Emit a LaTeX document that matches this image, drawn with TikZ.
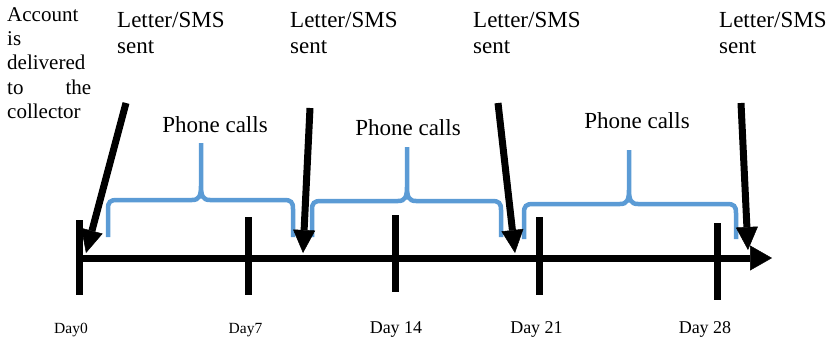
\documentclass[tikz,border=0pt]{standalone}
\usepackage{fontspec}
\setmainfont{Liberation Serif}
\usetikzlibrary{arrows.meta}
\definecolor{callblue}{HTML}{5B9BD5}
\begin{document}
\begin{tikzpicture}[x=1pt,y=-1pt,
  lbl/.style={inner sep=0pt, font=\fontsize{23}{26}\selectfont},
  sentlbl/.style={lbl, anchor=base west, text width=130pt, align=left},
  calls/.style={lbl, anchor=base},
  daysmall/.style={inner sep=0pt, anchor=base, font=\fontsize{15.5}{18}\selectfont},
  daybig/.style={inner sep=0pt, anchor=base, font=\fontsize{18}{21}\selectfont},
  tickmark/.style={line width=7pt},
  axis/.style={line width=7pt, -{Triangle[width=25pt,length=22pt,line width=0.5pt]}},
  push/.style={line width=7pt, -{Triangle[width=22pt,length=23pt,line width=0.5pt]}},
  brace/.style={callblue, line width=4.5pt},
]
\useasboundingbox (0,0) rectangle (831,341);

% text
\node[inner sep=0pt, anchor=base west, text width=84pt, align=left,
      font=\fontsize{21}{24.4}\selectfont] (acct) at (7,21)
  {Account\\is\\delivered\\to\hskip0pt plus 1filll the\\collector};
\node[sentlbl] (ls1) at (117,27) {Letter/SMS\\sent};
\node[sentlbl] (ls2) at (290,27) {Letter/SMS\\sent};
\node[sentlbl] (ls3) at (473,27) {Letter/SMS\\sent};
\node[sentlbl] (ls4) at (719,27) {Letter/SMS\\sent};
\node[calls] (pc1) at (215,132) {Phone calls};
\node[calls] (pc2) at (408,135) {Phone calls};
\node[calls] (pc3) at (637,128) {Phone calls};
\node[daysmall] (d0) at (71,333) {Day0};
\node[daysmall] (d7) at (245.5,333) {Day7};
\node[daybig] (d14) at (396,333) {Day 14};
\node[daybig] (d21) at (536.5,333) {Day 21};
\node[daybig] (d28) at (705,333) {Day 28};

% braces (phone call periods)
\draw[brace] (108,237) -- (108,209) .. controls (108,202) and (110,200) .. (117,200) -- (192,200)
  .. controls (199,200) and (201,196) .. (201,186) -- (201,143)
  (201,186) .. controls (201,196) and (203,200) .. (210,200) -- (284,200)
  .. controls (291,200) and (293,202) .. (293,209) -- (293,237);
\draw[brace] (312,237) -- (312,210) .. controls (312,203) and (314,201) .. (321,201) -- (398,201)
  .. controls (405,201) and (407,197) .. (407,187) -- (407,147)
  (407,187) .. controls (407,197) and (409,201) .. (416,201) -- (492,201)
  .. controls (499,201) and (501,203) .. (501,210) -- (501,237);
\draw[brace] (524,239) -- (524,213) .. controls (524,206) and (526,204) .. (533,204) -- (620,204)
  .. controls (627,204) and (629,200) .. (629,190) -- (629,150)
  (629,190) .. controls (629,200) and (631,204) .. (638,204) -- (727,204)
  .. controls (734,204) and (736,206) .. (736,213) -- (736,239);

% ticks
\draw[tickmark] (79,220) -- (79,295);
\draw[tickmark] (248,217) -- (248,295);
\draw[tickmark] (395,215) -- (395,292);
\draw[tickmark] (539,217) -- (539,295);
\draw[tickmark] (717,223) -- (717,300);

% timeline
\coordinate (ax0) at (79,258);
\coordinate (axend) at (772,258);
\draw[axis] (ax0) -- (axend);

% letter/SMS arrows
\coordinate (s1) at (126,103); \coordinate (t1) at (86,253);
\coordinate (s2) at (310,108); \coordinate (t2) at (303,253);
\coordinate (s3) at (498,103); \coordinate (t3) at (515,253);
\coordinate (s4) at (741,103); \coordinate (t4) at (748,250);
\draw[push] (s1) -- (t1);
\draw[push] (s2) -- (t2);
\draw[push] (s3) -- (t3);
\draw[push] (s4) -- (t4);
\end{tikzpicture}
\end{document}
